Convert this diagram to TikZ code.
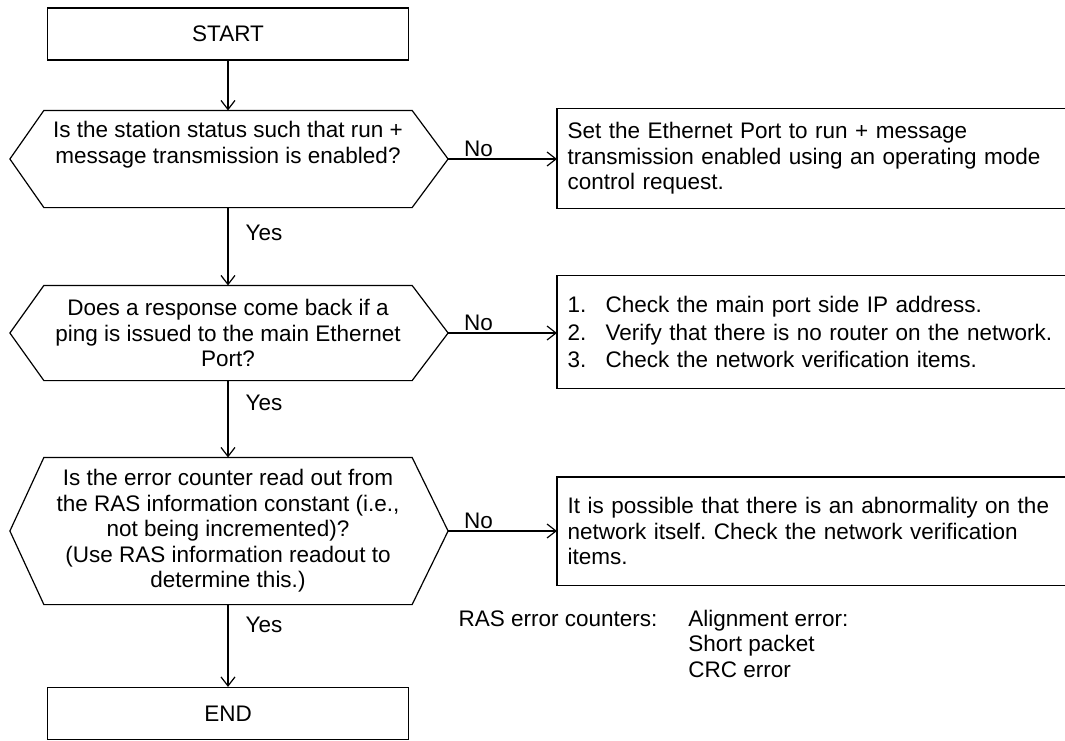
\documentclass[tikz,border=0pt]{standalone}
\usepackage{fontspec}
\setmainfont{Liberation Sans}
\usetikzlibrary{arrows.meta, positioning}
\frenchspacing

\tikzset{
  stepbox/.style={draw, minimum width=361pt, minimum height=52pt, inner sep=0pt},
  askbox/.style={align=center, minimum width=367pt, inner sep=0pt},
  fixbox/.style={align=left, text width=489pt, inner sep=10pt, anchor=west},
  lbl/.style={inner sep=2pt},
}

\begin{document}
\begin{tikzpicture}[x=1pt, y=-1pt, >={Straight Barb[length=9pt,width=14pt]},
    font=\fontsize{22.5}{25.5}\selectfont, line width=1.2pt]
    \useasboundingbox (0,0) rectangle (1065,740);

    % Ablauf links
    \node[stepbox] (start) at (228,34) {START};
    \node[askbox, minimum height=96pt] (q1) at (228,159)
        {Is the station status such that run +\\message transmission is enabled?\\\strut};
    \node[askbox, minimum height=94pt] (q2) at (228,333)
        {Does a response come back if a\\ping is issued to the main Ethernet\\Port?};
    \node[askbox, minimum height=146pt] (q3) at (228,531)
        {Is the error counter read out from\\the RAS information constant (i.e.,\\not being incremented)?\\(Use RAS information readout to\\determine this.)};
    \node[stepbox] (stop) at (228,713.5) {END};

    % Sechsecke
    \foreach \q in {q1,q2,q3} {
        \draw (\q.north west) -- (\q.north east) -- ([xshift=36pt]\q.east) coordinate (\q r)
            -- (\q.south east) -- (\q.south west) -- ([xshift=-34pt]\q.west) -- cycle;
    }

    % Massnahmen rechts
    \node[fixbox, minimum height=99pt] (a1) at (557,158.5)
        {Set the Ethernet Port to run + message\\transmission enabled using an operating mode\\control request.};
    \node[fixbox, minimum height=112pt] (a2) at (557,332)
        {\makebox[38pt][l]{1.}Check the main port side IP address.\\[2pt]
         \makebox[38pt][l]{2.}Verify that there is no router on the network.\\[2pt]
         \makebox[38pt][l]{3.}Check the network verification items.};
    \node[fixbox, minimum height=107pt] (a3) at (557,531)
        {It is possible that there is an abnormality on the\\network itself. Check the network verification\\items.};
    \foreach \a in {a1,a2,a3} {
        \draw (\a.north east) -- (\a.north west) -- (\a.south west) -- (\a.south east);
    }

    \node[anchor=north west, inner sep=0pt] (ras) at (458,608)
        {\begin{tabular}{@{}l@{\hspace{31pt}}l@{}}
         RAS error counters: & Alignment error:\\
          & Short packet\\
          & CRC error
         \end{tabular}};

    % Pfeile
    \draw[->] (start) -- (q1);
    \draw[->] (q1) -- (q2) node[lbl, pos=0.32, right=15pt] {Yes};
    \draw[->] (q2) -- (q3) node[lbl, pos=0.29, right=15pt] {Yes};
    \draw[->] (q3) -- (stop) node[lbl, pos=0.25, right=15pt] {Yes};
    \draw[->] (q1r) -- (q1r -| a1.west) node[lbl, pos=0.28, above] {No};
    \draw[->] (q2r) -- (q2r -| a2.west) node[lbl, pos=0.28, above] {No};
    \draw[->] (q3r) -- (q3r -| a3.west) node[lbl, pos=0.28, above] {No};
\end{tikzpicture}
\end{document}
